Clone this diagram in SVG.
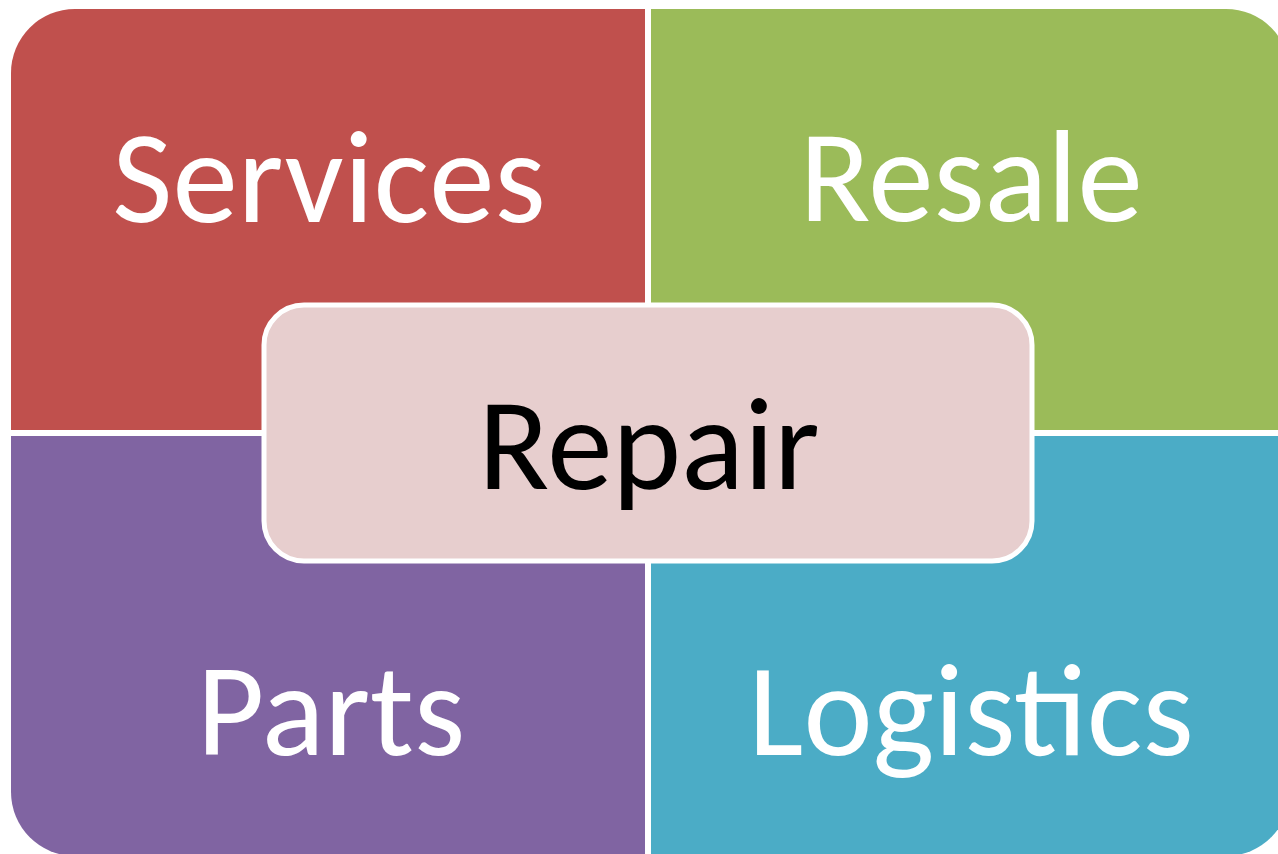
<svg xmlns="http://www.w3.org/2000/svg" width="1278" height="854" viewBox="0 0 1278 854">
<style>
.lbl{font-family:Carlito,"Open Sans","Noto Sans",sans-serif;font-size:131px;text-anchor:middle;fill:#FFFFFF}
.ctr{fill:#000000}
</style>
<rect width="1278" height="854" fill="#FFFFFF"/>
<g id="services">
<path d="M11,430 V73 A64,64 0 0 1 75,9 H645 V430 Z" fill="#C0504D"/>
<text class="lbl" x="329" y="222">Services</text>
</g>
<g id="resale">
<path d="M651,9 H1226 A64,64 0 0 1 1290,73 V430 H651 Z" fill="#9BBB59"/>
<text class="lbl" x="971" y="221">Resale</text>
</g>
<g id="parts">
<path d="M11,436 H645 V856 H75 A64,64 0 0 1 11,792 Z" fill="#8064A2"/>
<text class="lbl" x="331" y="755">Parts</text>
</g>
<g id="logistics">
<path d="M651,436 H1290 V792 A64,64 0 0 1 1226,856 H651 Z" fill="#4BACC6"/>
<text class="lbl" x="971" y="755">Logistics</text>
</g>
<g id="connectors"></g>
<g id="repair">
<rect x="264" y="305" width="768" height="256" rx="40" ry="40" fill="#E7CECE" stroke="#FFFFFF" stroke-width="5"/>
<text class="lbl ctr" x="649" y="489">Repair</text>
</g>
</svg>
